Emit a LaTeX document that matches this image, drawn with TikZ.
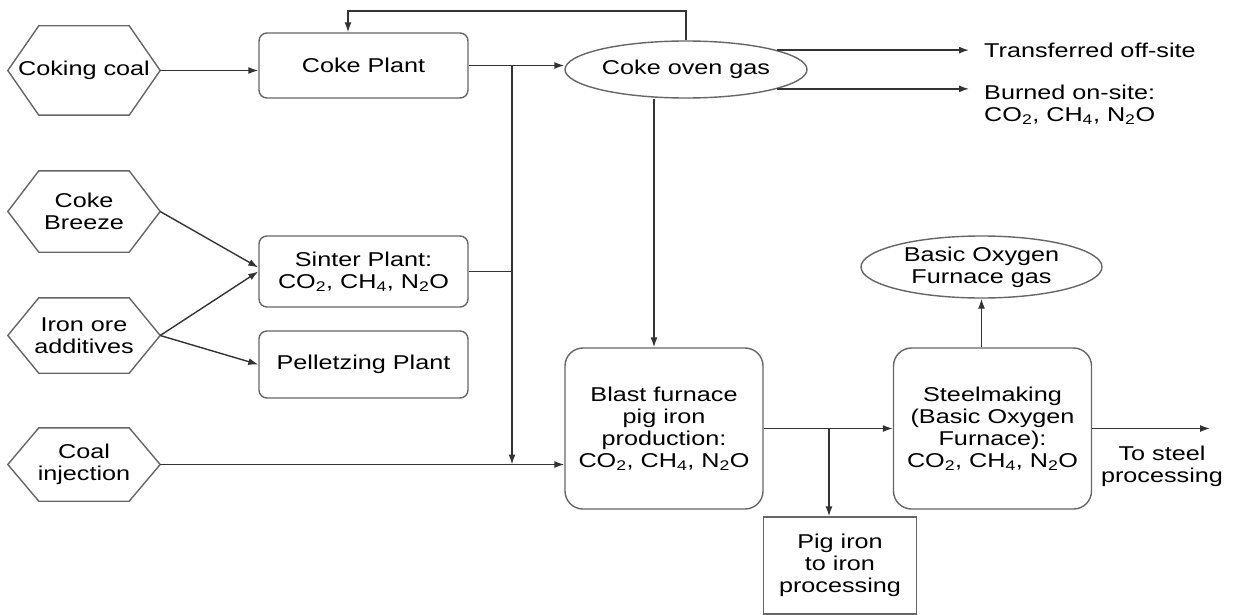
\documentclass[tikz,border=0pt]{standalone}
\usepackage{fontspec}
\setmainfont[FakeStretch=1.26]{Liberation Sans}
\usepackage{tikz}
\usetikzlibrary{arrows.meta, positioning, shapes.geometric}

\newcommand{\ghg}{CO\textsubscript{2}, CH\textsubscript{4}, N\textsubscript{2}O}

\begin{document}
\begin{tikzpicture}[
  x=1pt, y=-1pt,
  every node/.style={font=\fontsize{20}{22}\selectfont},
  source/.style={minimum width=152pt, align=center, inner sep=0pt},
  plant/.style={draw=black!60, line width=1.4pt, rounded corners=8pt, minimum width=209pt, align=center, inner sep=0pt},
  furnace/.style={draw=black!60, line width=1.4pt, rounded corners=18pt, minimum width=198pt, minimum height=161pt, align=center, inner sep=0pt},
  gas/.style={draw=black!60, line width=1.4pt, ellipse, align=center, inner sep=0pt},
  outlet/.style={anchor=west, align=left, inner sep=0pt, inner xsep=15pt},
  hexline/.style={draw=black!60, line width=1.4pt},
  flow/.style={-{Latex[length=10pt, width=7pt]}, line width=1.4pt, black!80},
  link/.style={line width=1.4pt, black!80}
]
  \useasboundingbox (0,0) rectangle (1236,615);

  % Define X coordinates of the columns
  \def\srcX{84}
  \def\plantX{363.5}

  % Raw material inputs (hexagons)
  \node[source, minimum height=89pt] (cc) at (\srcX, 70.5) {Coking coal};
  \node[source, minimum height=81pt] (cb) at (\srcX, 211.5) {Coke\\Breeze};
  \node[source, minimum height=75pt] (io) at (\srcX, 335.5) {Iron ore\\additives};
  \node[source, minimum height=73pt] (ci) at (\srcX, 464.5) {Coal\\injection};

  \foreach \n in {cc, cb, io, ci}
    \draw[hexline] (\n.west) -- ([xshift=31pt]\n.north west) -- ([xshift=-31pt]\n.north east)
      -- (\n.east) -- ([xshift=-31pt]\n.south east) -- ([xshift=31pt]\n.south west) -- cycle;

  % Plants
  \node[plant, minimum height=65pt] (cp) at (\plantX, 65.5) {Coke Plant};
  \node[plant, minimum height=71pt] (sp) at (\plantX, 271.5) {Sinter Plant:\\\ghg};
  \node[plant, minimum height=67pt] (pp) at (\plantX, 364.5) {Pelletzing Plant};

  % Gases
  \node[gas, minimum width=242pt, minimum height=57pt] (cog) at (686, 69.5) {Coke oven gas};
  \node[gas, minimum width=241pt, minimum height=62pt] (bofg) at (981.5, 267) {Basic Oxygen\\Furnace gas};

  % Furnaces
  \node[furnace] (bf) at (664, 428.5) {Blast furnace\\pig iron\\production:\\\ghg};
  \node[furnace] (sm) at (992.5, 428.5) {Steelmaking\\(Basic Oxygen\\Furnace):\\\ghg};
  \node[draw=black!60, line width=1.4pt, minimum width=153pt, minimum height=97pt, align=center, inner sep=0pt] (pi) at (840, 565.5) {Pig iron\\to iron\\processing};

  % Outputs
  \node[outlet] (tr) at (969, 50) {Transferred off-site};
  \node[outlet] (bo) at (969, 104.5) {Burned on-site:\\\ghg};
  \node[align=center, inner sep=0pt] (ts) at (1162, 466) {To steel\\processing};

  % Junctions and free ends
  \coordinate (j1) at (512, 65.5);
  \coordinate (j2) at (829, 428.5);
  \coordinate (fb) at (348, 11);
  \coordinate (bftop) at ([xshift=-10pt]bf.north);
  \coordinate (out) at (1210, 428.5);

  % Inputs to plants
  \draw[flow] (cc.east) -- (cc.east -| cp.west);
  \draw[flow] (cb.east) -- ([yshift=4pt]sp.west);
  \draw[flow] (io.east) -- (sp.west);
  \draw[flow] (io.east) -- (pp.west);
  \draw[flow] (ci.east) -- (ci.east -| bf.west);

  % Coke plant and sinter plant outputs
  \draw[flow] (cp.east) -- (cp.east -| cog.west);
  \draw[link] (sp.east) -- (sp.east -| j1);
  \draw[flow] (j1) -- (j1 |- ci.east);

  % Coke oven gas
  \draw[flow] (cog.north) |- (fb) -- (fb |- cp.north);
  \draw[flow] (cog.12.5) -- (cog.12.5 -| tr.west);
  \draw[flow] (cog.-12.5) -- (cog.-12.5 -| bo.west);
  \draw[flow] (bftop |- cog.south) -- (bftop);

  % Iron and steel
  \draw[flow] (bf.east) -- (sm.west);
  \draw[flow] (j2) -- (j2 |- pi.north);
  \draw[flow] (sm.north -| bofg.south) -- (bofg.south);
  \draw[flow] (sm.east) -- (out);

\end{tikzpicture}
\end{document}
